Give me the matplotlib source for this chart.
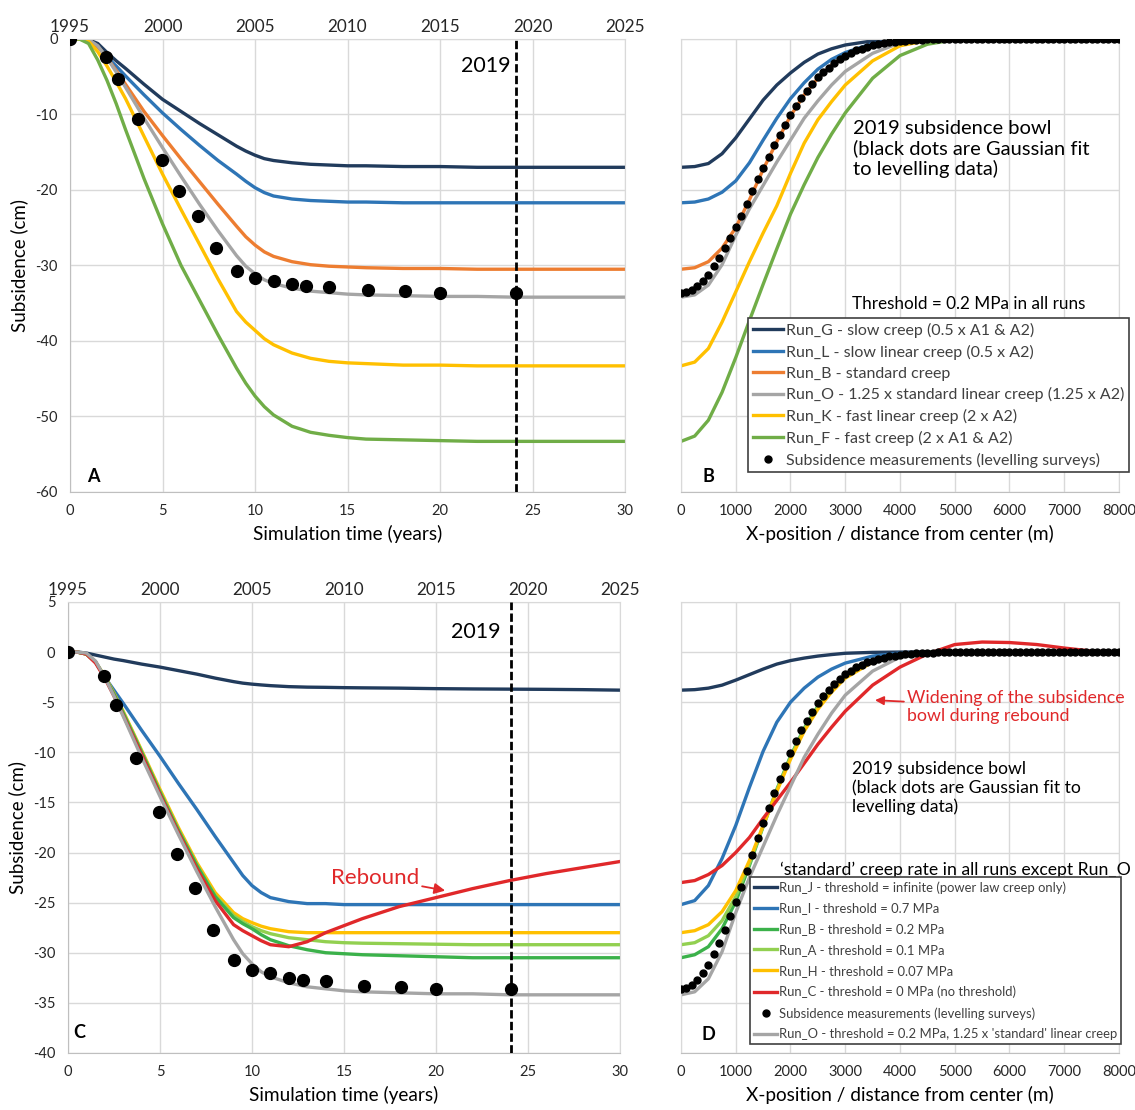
import matplotlib
matplotlib.use('Agg')
import matplotlib.pyplot as plt

plt.rcParams['font.family'] = ['Lato', 'DejaVu Sans']
plt.rcParams['axes.unicode_minus'] = False

# ---- time series (panels A and C), subsidence in cm ----
T = [0, 0.5, 1, 1.5, 2, 2.5, 3, 4, 5, 6, 7, 8, 9, 9.5, 10, 10.5, 11, 12, 13, 14, 15, 16, 18, 20, 22, 24, 26, 28, 30]

run_G = [0, 0, -0.1, -0.6, -1.8, -2.9, -3.9, -6.0, -8.0, -9.6, -11.2, -12.7, -14.2, -14.85, -15.4, -15.85, -16.1, -16.4, -16.6, -16.7, -16.8, -16.8, -16.9, -16.9, -17.0, -17.0, -17.0, -17.0, -17.0]
run_L = [0, 0, -0.1, -1.0, -2.4, -3.6, -4.9, -7.4, -9.8, -12.0, -14.1, -16.1, -17.9, -18.85, -19.7, -20.35, -20.8, -21.2, -21.4, -21.5, -21.6, -21.6, -21.7, -21.7, -21.7, -21.7, -21.7, -21.7, -21.7]
run_B = [0, 0, -0.1, -1.0, -2.5, -4.2, -6.0, -9.6, -12.8, -15.9, -18.9, -21.9, -24.8, -26.2, -27.3, -28.2, -28.8, -29.5, -29.9, -30.1, -30.2, -30.3, -30.4, -30.4, -30.5, -30.5, -30.5, -30.5, -30.5]
run_O = [0, 0, -0.1, -0.9, -2.5, -4.4, -6.4, -10.5, -14.4, -18.2, -21.9, -25.4, -28.7, -30.1, -31.1, -31.9, -32.4, -33.0, -33.4, -33.6, -33.8, -33.9, -34.0, -34.1, -34.1, -34.2, -34.2, -34.2, -34.2]
run_K = [0, 0, -0.3, -1.7, -3.6, -5.7, -7.9, -12.9, -17.9, -22.6, -27.2, -31.8, -36.1, -37.5, -38.6, -39.7, -40.5, -41.6, -42.3, -42.7, -42.9, -43.0, -43.2, -43.2, -43.3, -43.3, -43.3, -43.3, -43.3]
run_F = [0, 0, -0.6, -2.8, -5.5, -8.6, -12.0, -18.5, -24.5, -30.0, -34.6, -39.2, -43.6, -45.6, -47.3, -48.7, -49.8, -51.3, -52.1, -52.5, -52.8, -53.0, -53.1, -53.2, -53.3, -53.3, -53.3, -53.3, -53.3]

run_J = [0, 0, -0.1, -0.3, -0.5, -0.7, -0.85, -1.2, -1.5, -1.85, -2.2, -2.6, -2.95, -3.1, -3.2, -3.28, -3.35, -3.45, -3.5, -3.52, -3.55, -3.57, -3.6, -3.65, -3.68, -3.7, -3.72, -3.75, -3.8]
run_I = [0, 0, -0.2, -1.0, -2.5, -3.8, -5.1, -7.8, -10.4, -13.1, -15.7, -18.4, -21.0, -22.3, -23.3, -24.0, -24.5, -24.9, -25.1, -25.1, -25.2, -25.2, -25.2, -25.2, -25.2, -25.2, -25.2, -25.2, -25.2]
run_Bc = [0, 0, -0.2, -1.0, -2.5, -4.2, -6.1, -10.0, -14.0, -17.8, -21.3, -24.4, -26.5, -27.1, -27.6, -28.2, -28.7, -29.3, -29.7, -30.0, -30.1, -30.2, -30.3, -30.4, -30.5, -30.5, -30.5, -30.5, -30.5]
run_A = [0, 0, -0.2, -1.0, -2.5, -4.2, -6.0, -9.9, -13.9, -17.7, -21.2, -24.3, -26.3, -26.9, -27.4, -27.8, -28.1, -28.5, -28.7, -28.9, -29.0, -29.05, -29.1, -29.15, -29.2, -29.2, -29.2, -29.2, -29.2]
run_H = [0, 0, -0.2, -1.0, -2.4, -4.1, -5.9, -9.8, -13.7, -17.5, -21.0, -24.0, -26.0, -26.6, -27.0, -27.35, -27.6, -27.9, -28.0, -28.0, -28.0, -28.0, -28.0, -28.0, -28.0, -28.0, -28.0, -28.0, -28.0]
run_C = [0, 0, -0.2, -1.1, -2.6, -4.4, -6.3, -10.2, -14.2, -18.0, -21.6, -24.8, -27.2, -27.8, -28.3, -28.8, -29.2, -29.4, -28.9, -28.0, -27.3, -26.6, -25.4, -24.5, -23.6, -22.8, -22.1, -21.5, -20.9]

meas_t = [0, 1.95, 2.6, 3.7, 4.95, 5.9, 6.9, 7.9, 9.0, 10.0, 11.0, 12.0, 12.75, 14.0, 16.1, 18.1, 20.0, 24.1]
meas_y = [0, -2.4, -5.3, -10.6, -16.0, -20.1, -23.5, -27.7, -30.7, -31.7, -32.0, -32.5, -32.7, -32.8, -33.3, -33.4, -33.6, -33.6]

# ---- 2019 profiles (panels B and D) ----
X = [0, 250, 500, 750, 1000, 1250, 1500, 1750, 2000, 2250, 2500, 2750, 3000, 3500, 4000, 4500, 5000, 5500, 6000, 6500, 7000, 7500, 8000]

prof_G = [-17.0, -16.9, -16.5, -15.2, -13.1, -10.6, -8.1, -6.1, -4.5, -3.1, -2.0, -1.3, -0.8, -0.25, -0.05, 0, 0, 0, 0, 0, 0, 0, 0]
prof_L = [-21.7, -21.6, -21.2, -20.3, -18.8, -16.4, -13.4, -10.5, -7.9, -5.8, -4.0, -2.7, -1.8, -0.6, -0.1, 0, 0, 0, 0, 0, 0, 0, 0]
prof_B = [-30.5, -30.3, -29.5, -27.7, -25.0, -21.3, -17.3, -13.6, -10.2, -7.4, -5.2, -3.5, -2.2, -0.8, -0.2, 0, 0, 0, 0, 0, 0, 0, 0]
prof_O = [-34.2, -33.9, -32.6, -29.9, -26.0, -22.5, -19.4, -16.3, -13.4, -10.5, -8.2, -6.1, -4.3, -1.9, -0.5, -0.1, 0, 0, 0, 0, 0, 0, 0]
prof_K = [-43.3, -42.8, -41.0, -37.5, -33.5, -29.5, -25.7, -22.1, -17.8, -13.8, -10.7, -8.3, -6.1, -2.9, -0.9, -0.2, 0, 0, 0, 0, 0, 0, 0]
prof_F = [-53.3, -52.6, -50.5, -46.8, -42.2, -37.3, -32.5, -27.8, -23.2, -19.3, -15.7, -12.6, -9.8, -5.2, -2.2, -0.7, -0.1, 0, 0, 0, 0, 0, 0]

prof_J = [-3.8, -3.75, -3.6, -3.3, -2.8, -2.25, -1.7, -1.2, -0.85, -0.6, -0.4, -0.25, -0.12, -0.03, 0, 0, 0, 0, 0, 0, 0, 0, 0]
prof_I = [-25.2, -24.8, -23.3, -20.6, -17.3, -13.5, -9.9, -7.0, -5.0, -3.6, -2.5, -1.7, -1.1, -0.4, -0.1, 0, 0, 0, 0, 0, 0, 0, 0]
prof_Bd = [-30.5, -30.2, -29.4, -27.6, -24.9, -21.3, -17.4, -13.7, -10.4, -7.6, -5.4, -3.7, -2.4, -0.9, -0.25, -0.05, 0, 0, 0, 0, 0, 0, 0]
prof_A = [-29.2, -29.0, -28.3, -26.8, -24.4, -21.1, -17.4, -13.8, -10.5, -7.7, -5.5, -3.8, -2.5, -0.95, -0.3, -0.05, 0, 0, 0, 0, 0, 0, 0]
prof_H = [-28.0, -27.8, -27.2, -25.9, -23.8, -20.8, -17.3, -13.9, -10.7, -7.9, -5.7, -4.0, -2.6, -1.0, -0.3, -0.05, 0, 0, 0, 0, 0, 0, 0]
prof_C = [-23.0, -22.8, -22.2, -21.3, -20.0, -18.5, -16.6, -14.8, -13.0, -11.1, -9.2, -7.5, -5.9, -3.3, -1.5, -0.2, 0.75, 1.0, 0.95, 0.75, 0.4, 0.1, 0.0]

# gaussian fit to levelling, one dot every 100 m
gauss_x = list(range(0, 8001, 100))
gauss_y = [-33.6, -33.5, -33.2, -32.7, -32.0, -31.2, -30.1, -29.0, -27.7, -26.3, -24.9, -23.4, -21.8, -20.2,
           -18.6, -17.1, -15.6, -14.1, -12.7, -11.4, -10.1, -8.9, -7.8, -6.9, -6.0, -5.1, -4.4, -3.8, -3.2,
           -2.7, -2.2, -1.9, -1.5, -1.3, -1.0, -0.85, -0.7, -0.55, -0.44, -0.35, -0.28, -0.21, -0.16, -0.12,
           -0.09, -0.07, -0.05, -0.04, -0.03, -0.02, -0.01] + [0.0] * 30

years = [1995, 2000, 2005, 2010, 2015, 2020, 2025]

NAVY = '#213b5c'
BLUE = '#2e75b6'
ORANGE = '#ed7d31'
GREY = '#a5a5a5'
YELLOW = '#ffc000'
GREEN = '#70ad47'
GREEN2 = '#3bb14a'
LIME = '#92d050'
RED = '#e0282a'
LW = 2.4


def style(ax, xticks, yticks, ylabels=True):
    ax.set_xticks(xticks)
    ax.set_yticks(yticks)
    ax.grid(True, color='#d9d9d9', lw=1)
    ax.set_axisbelow(True)
    for s in ['top', 'right']:
        ax.spines[s].set_color('#d9d9d9')
    ax.spines['left'].set_color('#bfbfbf' if ylabels else '#d9d9d9')
    ax.spines['bottom'].set_color('#bfbfbf')
    ax.tick_params(length=0, labelsize=10.5, pad=9, colors='#262626')
    if not ylabels:
        ax.set_yticklabels([])


def year_axis(ax):
    sec = ax.secondary_xaxis('top', functions=(lambda t: t + 1995, lambda y: y - 1995))
    sec.set_xticks(years)
    sec.tick_params(length=0, labelsize=12.3, pad=3, colors='#262626')
    sec.spines['top'].set_visible(False)


fig = plt.figure(figsize=(11.35, 11.1), dpi=100)
axA = fig.add_axes([0.0617, 0.5568, 0.489, 0.4081])
axB = fig.add_axes([0.6, 0.5568, 0.3859, 0.4081])
axC = fig.add_axes([0.0599, 0.0514, 0.4863, 0.4063])
axD = fig.add_axes([0.6, 0.0514, 0.3859, 0.4063])

# ---------- A ----------
for y, c in [(run_G, NAVY), (run_L, BLUE), (run_B, ORANGE), (run_O, GREY), (run_K, YELLOW), (run_F, GREEN)]:
    axA.plot(T, y, color=c, lw=LW)
axA.axvline(24.1, color='black', lw=2, ls=(0, (3, 1.2)), zorder=5)
axA.plot(meas_t, meas_y, 'o', color='black', ms=8.5, zorder=6)
axA.set_xlim(0, 30)
axA.set_ylim(-60, 0)
style(axA, range(0, 31, 5), range(-60, 1, 10))
year_axis(axA)
axA.set_xlabel('Simulation time (years)', fontsize=13.7, labelpad=5)
axA.set_ylabel('Subsidence (cm)', fontsize=13.5, labelpad=5)
axA.text(23.8, -3.6, '2019', fontsize=15.5, ha='right', va='center')
axA.text(1.25, -57.9, 'A', fontsize=13, fontweight='bold', ha='center', va='center')

# ---------- B ----------
b_runs = [(prof_G, NAVY, 'Run_G - slow creep (0.5 x A1 & A2)'),
          (prof_L, BLUE, 'Run_L - slow linear creep (0.5 x A2)'),
          (prof_B, ORANGE, 'Run_B - standard creep'),
          (prof_O, GREY, 'Run_O - 1.25 x standard linear creep (1.25 x A2)'),
          (prof_K, YELLOW, 'Run_K - fast linear creep (2 x A2)'),
          (prof_F, GREEN, 'Run_F - fast creep (2 x A1 & A2)')]
handles = []
for y, c, lab in b_runs:
    handles.append(axB.plot(X, y, color=c, lw=LW, label=lab)[0])
handles.append(axB.plot(gauss_x, gauss_y, 'o', color='black', ms=5, zorder=6,
                        label='Subsidence measurements (levelling surveys)')[0])
axB.set_xlim(0, 8000)
axB.set_ylim(-60, 0)
style(axB, range(0, 8001, 1000), range(-60, 1, 10), ylabels=False)
axB.set_xlabel('X-position / distance from center (m)', fontsize=13.7, labelpad=5)
axB.text(3147, -10.8, '2019 subsidence bowl\n(black dots are Gaussian fit\nto levelling data)',
         fontsize=14.5, ha='left', va='top', linespacing=1.15)
axB.text(3123, -35.1, 'Threshold = 0.2 MPa in all runs', fontsize=12.3, ha='left', va='center')
axB.text(493, -57.9, 'B', fontsize=13, fontweight='bold', ha='center', va='center')
leg = axB.legend(handles=handles, loc='upper left', bbox_to_anchor=(0.153, 0.384), fontsize=11.5,
                 fancybox=False, edgecolor='#404040', framealpha=1, handlelength=1.9,
                 handletextpad=0.15, borderpad=0.3, labelspacing=0.42, borderaxespad=0)
leg.get_frame().set_linewidth(1.2)
for t in leg.get_texts():
    t.set_color('#404040')

# ---------- C ----------
for y, c in [(run_J, NAVY), (run_I, BLUE), (run_H, YELLOW), (run_A, LIME), (run_Bc, GREEN2), (run_C, RED), (run_O, GREY)]:
    axC.plot(T, y, color=c, lw=LW)
axC.axvline(24.1, color='black', lw=2, ls=(0, (3, 1.2)), zorder=5)
axC.plot(meas_t, meas_y, 'o', color='black', ms=8.5, zorder=6)
axC.set_xlim(0, 30)
axC.set_ylim(-40, 5)
style(axC, range(0, 31, 5), range(-40, 6, 5))
year_axis(axC)
axC.set_xlabel('Simulation time (years)', fontsize=13.7, labelpad=5)
axC.set_ylabel('Subsidence (cm)', fontsize=13.5, labelpad=5)
axC.text(23.5, 2.0, '2019', fontsize=15.5, ha='right', va='center')
axC.text(0.6, -38.0, 'C', fontsize=13, fontweight='bold', ha='center', va='center')
axC.annotate('Rebound', xy=(20.5, -23.8), xytext=(14.3, -22.5), color=RED, fontsize=16,
             ha='left', va='center',
             arrowprops=dict(arrowstyle='-|>', color=RED, lw=1.3, shrinkA=0, shrinkB=0))

# ---------- D ----------
d_runs = [(prof_J, NAVY, 'Run_J - threshold = infinite (power law creep only)'),
          (prof_I, BLUE, 'Run_I - threshold = 0.7 MPa'),
          (prof_Bd, GREEN2, 'Run_B - threshold = 0.2 MPa'),
          (prof_A, LIME, 'Run_A - threshold = 0.1 MPa'),
          (prof_H, YELLOW, 'Run_H - threshold = 0.07 MPa'),
          (prof_C, RED, 'Run_C - threshold = 0 MPa (no threshold)')]
handles = []
for y, c, lab in d_runs:
    handles.append(axD.plot(X, y, color=c, lw=LW, label=lab)[0])
lo = axD.plot(X, prof_O, color=GREY, lw=LW, label="Run_O - threshold = 0.2 MPa, 1.25 x 'standard' linear creep")[0]
handles.append(axD.plot(gauss_x, gauss_y, 'o', color='black', ms=5, zorder=6,
                        label='Subsidence measurements (levelling surveys)')[0])
handles.append(lo)
axD.set_xlim(0, 8000)
axD.set_ylim(-40, 5)
style(axD, range(0, 8001, 1000), range(-40, 6, 5), ylabels=False)
axD.set_xlabel('X-position / distance from center (m)', fontsize=13.7, labelpad=5)
axD.text(3117, -10.9, '2019 subsidence bowl\n(black dots are Gaussian fit to\nlevelling data)',
         fontsize=12.7, ha='left', va='top', linespacing=1.2)
axD.annotate('Widening of the subsidence\nbowl during rebound', xy=(3543, -4.8), xytext=(4122, -5.5),
             color=RED, fontsize=12.8, ha='left', va='center', linespacing=1.2,
             arrowprops=dict(arrowstyle='-|>', color=RED, lw=1.3, shrinkA=0, shrinkB=0))
axD.text(1808, -21.7, "\u2018standard\u2019 creep rate in all runs except Run_O", fontsize=12.7, ha='left', va='center')
axD.text(493, -38.2, 'D', fontsize=13, fontweight='bold', ha='center', va='center')
leg = axD.legend(handles=handles, loc='upper left', bbox_to_anchor=(0.158, 0.39), fontsize=9.35,
                 fancybox=False, edgecolor='#404040', framealpha=1, handlelength=1.8,
                 handletextpad=0.1, borderpad=0.3, labelspacing=0.68, borderaxespad=0)
leg.get_frame().set_linewidth(1.2)
for t in leg.get_texts():
    t.set_color('#404040')

fig.savefig('out.png', dpi=100)
